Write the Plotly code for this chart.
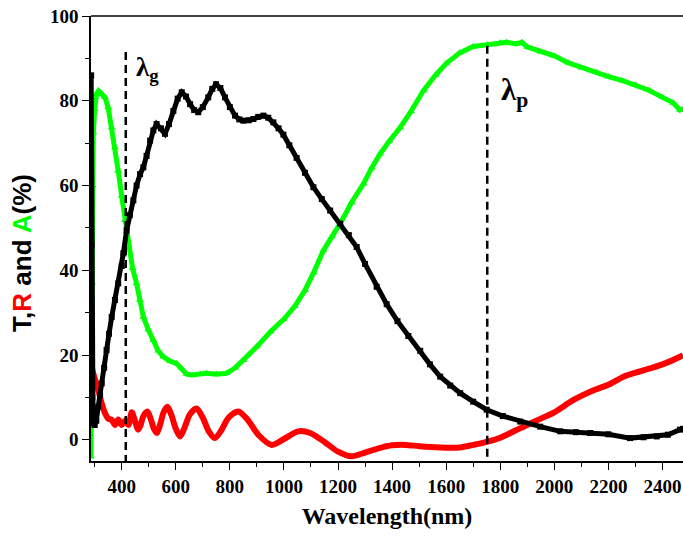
import plotly.graph_objects as go

# ---- data ----
wl_T = [287, 289, 291, 294, 300, 306, 313, 320, 326, 335, 344, 353, 363, 375, 387, 400, 406, 418, 430,
        443, 455, 468, 480, 492, 505, 517, 529, 545, 560, 575, 591, 607, 622, 638, 653, 668, 683, 700,
        720, 735, 749, 765, 782, 800, 819, 835, 850, 870, 887, 905, 924, 942, 961, 980, 998, 1020, 1047,
        1078, 1109, 1140, 1171, 1208, 1240, 1269, 1300, 1343, 1380, 1420, 1460, 1504, 1540, 1578, 1615,
        1652, 1700, 1750, 1810, 1874, 1948, 2022, 2080, 2133, 2200, 2280, 2330, 2379, 2420, 2465, 2476]
T_vals = [86, 46, 10, 4, 3.5, 4.5, 7.8, 10.5, 13.3, 17, 21.2, 25, 29, 33, 36.9, 41, 44, 49.4, 53,
          56.5, 60, 62.7, 64.3, 67, 70.6, 73, 74.5, 73.5, 72.2, 74.5, 77.6, 80.5, 82, 81, 79.2, 77.8, 77.3, 78.5,
          80.8, 82.8, 83.9, 83, 80.8, 78.5, 76.5, 75.6, 75.3, 75.4, 75.7, 76.2, 76.5, 76, 74.9, 73.5, 72, 69.5, 66.5,
          63, 59.6, 56.8, 54.1, 51, 48.3, 45.5, 41.5, 36.1, 32, 28, 24.5, 21, 17.8, 14.9, 12.8,
          11, 9, 7.1, 5.6, 4.3, 3.1, 2.0, 1.8, 1.6, 1.3, 0.4, 0.6, 0.8, 1.2, 2.4, 2.6]

wl_R = [287, 298, 313, 326, 338, 350, 363, 375, 387, 400, 412, 425, 437, 449, 461, 470, 480, 495, 508,
        519, 530, 542, 555, 569, 584, 600, 616, 632, 652, 677, 700, 722, 745, 768, 795, 831, 865, 905,
        955, 1000, 1053, 1097, 1150, 1200, 1250, 1300, 1350, 1400, 1450, 1500, 1578, 1650, 1700, 1750,
        1800, 1850, 1886, 1950, 2000, 2071, 2150, 2200, 2256, 2320, 2400, 2465, 2476]
R_vals = [17.6, 14.9, 11.8, 8.6, 6.3, 5, 4.7, 3.5, 4.8, 3.5, 4.5, 3.5, 6.5, 4.5, 2.4, 3.5, 5.6, 6.7, 4.8,
          2.6, 1.6, 3.6, 6.5, 7.8, 5.8, 2.6, 0.8, 2.8, 6.0, 7.4, 5.2, 2.0, 0.4, 2.2, 5.2, 6.7, 4.8, 1.2,
          -1.2, 0.2, 2.0, 1.6, -0.5, -2.8, -3.9, -3, -2, -1.3, -1.2, -1.5, -1.8, -1.8, -1.2, -0.5,
          0.5, 2, 3.1, 5, 6.5, 9.4, 11.8, 13, 14.9, 16.2, 17.8, 19.6, 20]

wl_A = [286, 288, 290, 292, 295, 300, 307, 314, 320, 328, 338, 350, 363, 375, 387, 400, 412, 425, 440,
        455, 467, 480, 498, 517, 535, 554, 578, 603, 620, 640, 660, 690, 714, 750, 788, 820, 850, 900,
        950, 1000, 1040, 1078, 1110, 1146, 1178, 1208, 1250, 1294, 1325, 1356, 1390, 1430, 1470, 1516,
        1560, 1600, 1650, 1700, 1752, 1800, 1824, 1860, 1880, 1900, 1950, 2000, 2050, 2100, 2157, 2200,
        2250, 2300, 2350, 2400, 2440, 2465, 2476]
A_vals = [-4, 10, 37, 60, 72.5, 78, 81.6, 82.3, 82, 81.5, 80.8, 78.4, 73.7, 69, 63.5, 57.5, 51.8, 46, 40.5,
          36.9, 33, 29, 26, 23.5, 21, 19.6, 18.6, 18, 17, 15.5, 15.3, 15.5, 15.7, 15.5, 15.7, 17, 18.8, 22,
          25.5, 28.5, 31.5, 35.3, 39.5, 44.7, 48, 51, 56, 60.4, 64.2, 67.5, 70.5, 73.7, 77.5, 82.4,
          86, 88.8, 91.3, 92.8, 93.2, 93.7, 93.8, 93.4, 93.8, 92.7, 91.5, 90.6, 89, 87.8, 86.7, 85.7,
          84.8, 83.8, 82.5, 80.8, 79.5, 77.8, 78]

lambda_g = 415
lambda_p = 1752

x_ticks = [400, 600, 800, 1000, 1200, 1400, 1600, 1800, 2000, 2200, 2400]
y_ticks = [0, 20, 40, 60, 80, 100]

BLACK = "#000000"
RED = "#ff0000"
GREEN = "#00ff00"

fig = go.Figure()
fig.add_trace(go.Scatter(x=wl_A, y=A_vals, mode="lines+markers",
                         line=dict(color=GREEN, width=5),
                         marker=dict(symbol="triangle-up", size=7, color=GREEN)))
fig.add_trace(go.Scatter(x=wl_R, y=R_vals, mode="lines",
                         line=dict(color=RED, width=6, shape="spline", smoothing=0.8)))
fig.add_trace(go.Scatter(x=wl_T, y=T_vals, mode="lines+markers",
                         line=dict(color=BLACK, width=5),
                         marker=dict(symbol="square", size=6, color=BLACK)))

# dashed reference lines
fig.add_shape(type="line", xref="x", yref="y", x0=lambda_g, x1=lambda_g, y0=91.5, y1=-5,
              line=dict(color=BLACK, width=2.5, dash="8px,5px"))
fig.add_shape(type="line", xref="x", yref="y", x0=lambda_p, x1=lambda_p, y0=93, y1=-5,
              line=dict(color=BLACK, width=2.5, dash="8px,5px"))
# top frame line
fig.add_shape(type="line", xref="paper", yref="paper", x0=0, x1=1, y0=1, y1=1,
              line=dict(color=BLACK, width=1.5))

fig.add_annotation(x=445, y=87.5, xref="x", yref="y", text="<b>λ<sub>g</sub></b>",
                   showarrow=False, xanchor="left", yanchor="middle",
                   font=dict(family="Liberation Serif", size=27, color=BLACK))
fig.add_annotation(x=1795, y=82, xref="x", yref="y", text="<b>λ<sub>p</sub></b>",
                   showarrow=False, xanchor="left", yanchor="middle",
                   font=dict(family="Liberation Serif", size=31, color=BLACK))

# y-axis title
fig.add_annotation(x=-0.117, y=0.467, xref="paper", yref="paper", textangle=-90,
                   text="<b>T,<span style='color:#ff0000'>R</span> and "
                        "<span style='color:#00ff00'>A</span>(%)</b>",
                   showarrow=False, xanchor="center", yanchor="middle",
                   font=dict(family="Liberation Sans", size=26, color=BLACK))

tickfont = dict(family="Liberation Serif", size=19, color=BLACK)

fig.update_layout(
    width=683, height=538,
    margin=dict(l=91, r=0, t=16, b=77),
    paper_bgcolor="white", plot_bgcolor="white",
    showlegend=False,
    xaxis=dict(range=[286.4, 2476], tickvals=x_ticks,
               ticktext=["<b>%d</b>" % v for v in x_ticks],
               ticks="outside", ticklen=7, tickwidth=1.2, tickcolor=BLACK,
               minor=dict(dtick=100, tick0=0, ticks="outside", ticklen=4, tickwidth=1.2, tickcolor=BLACK),
               showline=True, linecolor=BLACK, linewidth=1.5, showgrid=False, zeroline=False,
               tickfont=tickfont,
               title=dict(text="<b>Wavelength(nm)</b>", standoff=12,
                          font=dict(family="Liberation Serif", size=24, color=BLACK))),
    yaxis=dict(range=[-5, 100], tickvals=y_ticks,
               ticktext=["<b>%d</b>" % v for v in y_ticks],
               ticks="outside", ticklen=7, tickwidth=1.2, tickcolor=BLACK,
               minor=dict(dtick=10, tick0=0, ticks="outside", ticklen=4, tickwidth=1.2, tickcolor=BLACK),
               showline=True, linecolor=BLACK, linewidth=1.5, showgrid=False, zeroline=False,
               tickfont=tickfont),
)

fig.write_html("out.html")
